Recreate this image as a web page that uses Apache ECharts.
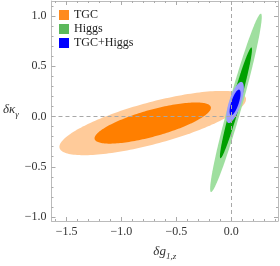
<!DOCTYPE html>
<html><head><meta charset="utf-8">
<script src="https://cdn.jsdelivr.net/npm/echarts@6/dist/echarts.min.js"></script>
<style>html,body{margin:0;padding:0;background:#fff}#c{width:280px;height:266px}</style>
</head><body><div id="c"></div>
<script>
// ---- data ----
const groups = ['TGC', 'Higgs', 'TGC+Higgs'];
const legendColors = ['#FF8A1E', '#5CB85C', '#0000FF'];
const outerColors = ['#FFCB9A', '#9FDF9F', '#9C9CFF'];
const innerColors = ['#FF7F00', '#00A000', '#0000FF'];
// ellipse parameters: centre, half extents along x and y, correlation
const centerX = [-0.715, 0.043, 0.035];
const centerY = [-0.065, 0.136, 0.14];
const outerHalfX = [0.85, 0.235, 0.08];
const outerHalfY = [0.32, 0.888, 0.205];
const innerHalfX = [0.53, 0.146, 0.05];
const innerHalfY = [0.205, 0.551, 0.128];
const corr = [0.74, 0.963, 0.7];

const xMajor = [-1.5, -1.0, -0.5, 0.0];
const xMinor = [-1.6, -1.4, -1.3, -1.2, -1.1, -0.9, -0.8, -0.7, -0.6, -0.4, -0.3, -0.2, -0.1, 0.1, 0.2, 0.3, 0.4];
const yMajor = [-1.0, -0.5, 0.0, 0.5, 1.0];
const yMinor = [-0.9, -0.8, -0.7, -0.6, -0.4, -0.3, -0.2, -0.1, 0.1, 0.2, 0.3, 0.4, 0.6, 0.7, 0.8, 0.9, 1.1];
const xRange = [-1.637, 0.426];
const yRange = [-1.04, 1.15];

const serif = 'Liberation Serif';
const fmt = v => v.toFixed(1).replace('-', '\u2212');
const frame = '#BBBBBB';
const tickCol = '#AAAAAA';

function xAx(pos, vals, len, labels, line, extra) {
  return Object.assign({
    type: 'value', position: pos, min: xRange[0], max: xRange[1],
    axisLine: { show: line, onZero: false, lineStyle: { color: frame, width: 1 } },
    axisTick: { show: true, inside: true, length: len, customValues: vals, lineStyle: { color: tickCol } },
    axisLabel: labels ? { show: true, customValues: vals, formatter: fmt, margin: 5, fontFamily: serif, fontSize: 12, color: '#333' } : { show: false },
    splitLine: { show: false }
  }, extra || {});
}
function yAx(pos, vals, len, labels, line, extra) {
  return Object.assign({
    type: 'value', position: pos, min: yRange[0], max: yRange[1],
    axisLine: { show: line, onZero: false, lineStyle: { color: frame, width: 1 } },
    axisTick: { show: true, inside: true, length: len, customValues: vals, lineStyle: { color: tickCol } },
    axisLabel: labels ? { show: true, customValues: vals, formatter: fmt, margin: 5, fontFamily: serif, fontSize: 12, color: '#333' } : { show: false },
    splitLine: { show: false }
  }, extra || {});
}

function makeRender(g) {
  return function (params, api) {
    const lvl = params.dataIndex; // 0 outer, 1 inner
    const hx = lvl === 0 ? outerHalfX[g] : innerHalfX[g];
    const hy = lvl === 0 ? outerHalfY[g] : innerHalfY[g];
    const phi = Math.acos(corr[g]);
    const pts = [];
    const N = 180;
    for (let i = 0; i < N; i++) {
      const t = 2 * Math.PI * i / N;
      pts.push(api.coord([centerX[g] + hx * Math.cos(t), centerY[g] + hy * Math.cos(t + phi)]));
    }
    return {
      type: 'polygon',
      shape: { points: pts },
      style: { fill: lvl === 0 ? outerColors[g] : innerColors[g], stroke: null }
    };
  };
}

const series = groups.map((name, g) => ({
  name: name,
  type: 'custom',
  coordinateSystem: 'cartesian2d',
  xAxisIndex: 0, yAxisIndex: 0,
  clip: true,
  itemStyle: { color: legendColors[g] },
  renderItem: makeRender(g),
  data: [[centerX[g], centerY[g]], [centerX[g], centerY[g]]],
  z: 2 + g,
  silent: true
}));
series[2].markLine = {
  silent: true, symbol: ['none', 'none'],
  label: { show: false },
  lineStyle: { type: [4, 3], color: '#A8A8A8', width: 1 },
  data: [{ xAxis: 0 }, { yAxis: 0 }]
};

const chart = echarts.init(document.getElementById('c'), null, { renderer: 'canvas' });
chart.setOption({
  animation: false,
  backgroundColor: '#fff',
  grid: { left: 49, top: 1, right: 2, bottom: 36 },
  legend: {
    data: groups, orient: 'vertical', left: 54, top: 4,
    icon: 'rect', itemWidth: 10, itemHeight: 10, itemGap: 2,
    textStyle: { fontFamily: serif, fontSize: 12, color: '#222' }
  },
  xAxis: [
    xAx('bottom', xMajor, 4, true, true, {
      name: '{a|δg}{b|1,z}', nameLocation: 'middle', nameGap: 24,
      nameTextStyle: { rich: {
        a: { fontFamily: serif, fontStyle: 'italic', fontSize: 13, color: '#333', lineHeight: 14, verticalAlign: 'top' },
        b: { fontFamily: serif, fontStyle: 'italic', fontSize: 9, color: '#333', padding: [7, 0, 0, 0], verticalAlign: 'bottom' }
      } }
    }),
    xAx('bottom', xMinor, 2, false, false),
    xAx('top', xMajor, 4, false, true),
    xAx('top', xMinor, 2, false, false)
  ],
  yAxis: [
    yAx('left', yMajor, 4, true, true, {
      name: '{a|δκ}{b|γ}', nameLocation: 'middle', nameGap: 31, nameRotate: 0,
      nameTextStyle: { rich: {
        a: { fontFamily: serif, fontStyle: 'italic', fontSize: 13, color: '#333', lineHeight: 14, verticalAlign: 'top' },
        b: { fontFamily: serif, fontStyle: 'italic', fontSize: 9, color: '#333', padding: [7, 0, 0, 0], verticalAlign: 'bottom' }
      } }
    }),
    yAx('left', yMinor, 2, false, false),
    yAx('right', yMajor, 4, false, true),
    yAx('right', yMinor, 2, false, false)
  ],
  series: series
});
</script></body></html>
